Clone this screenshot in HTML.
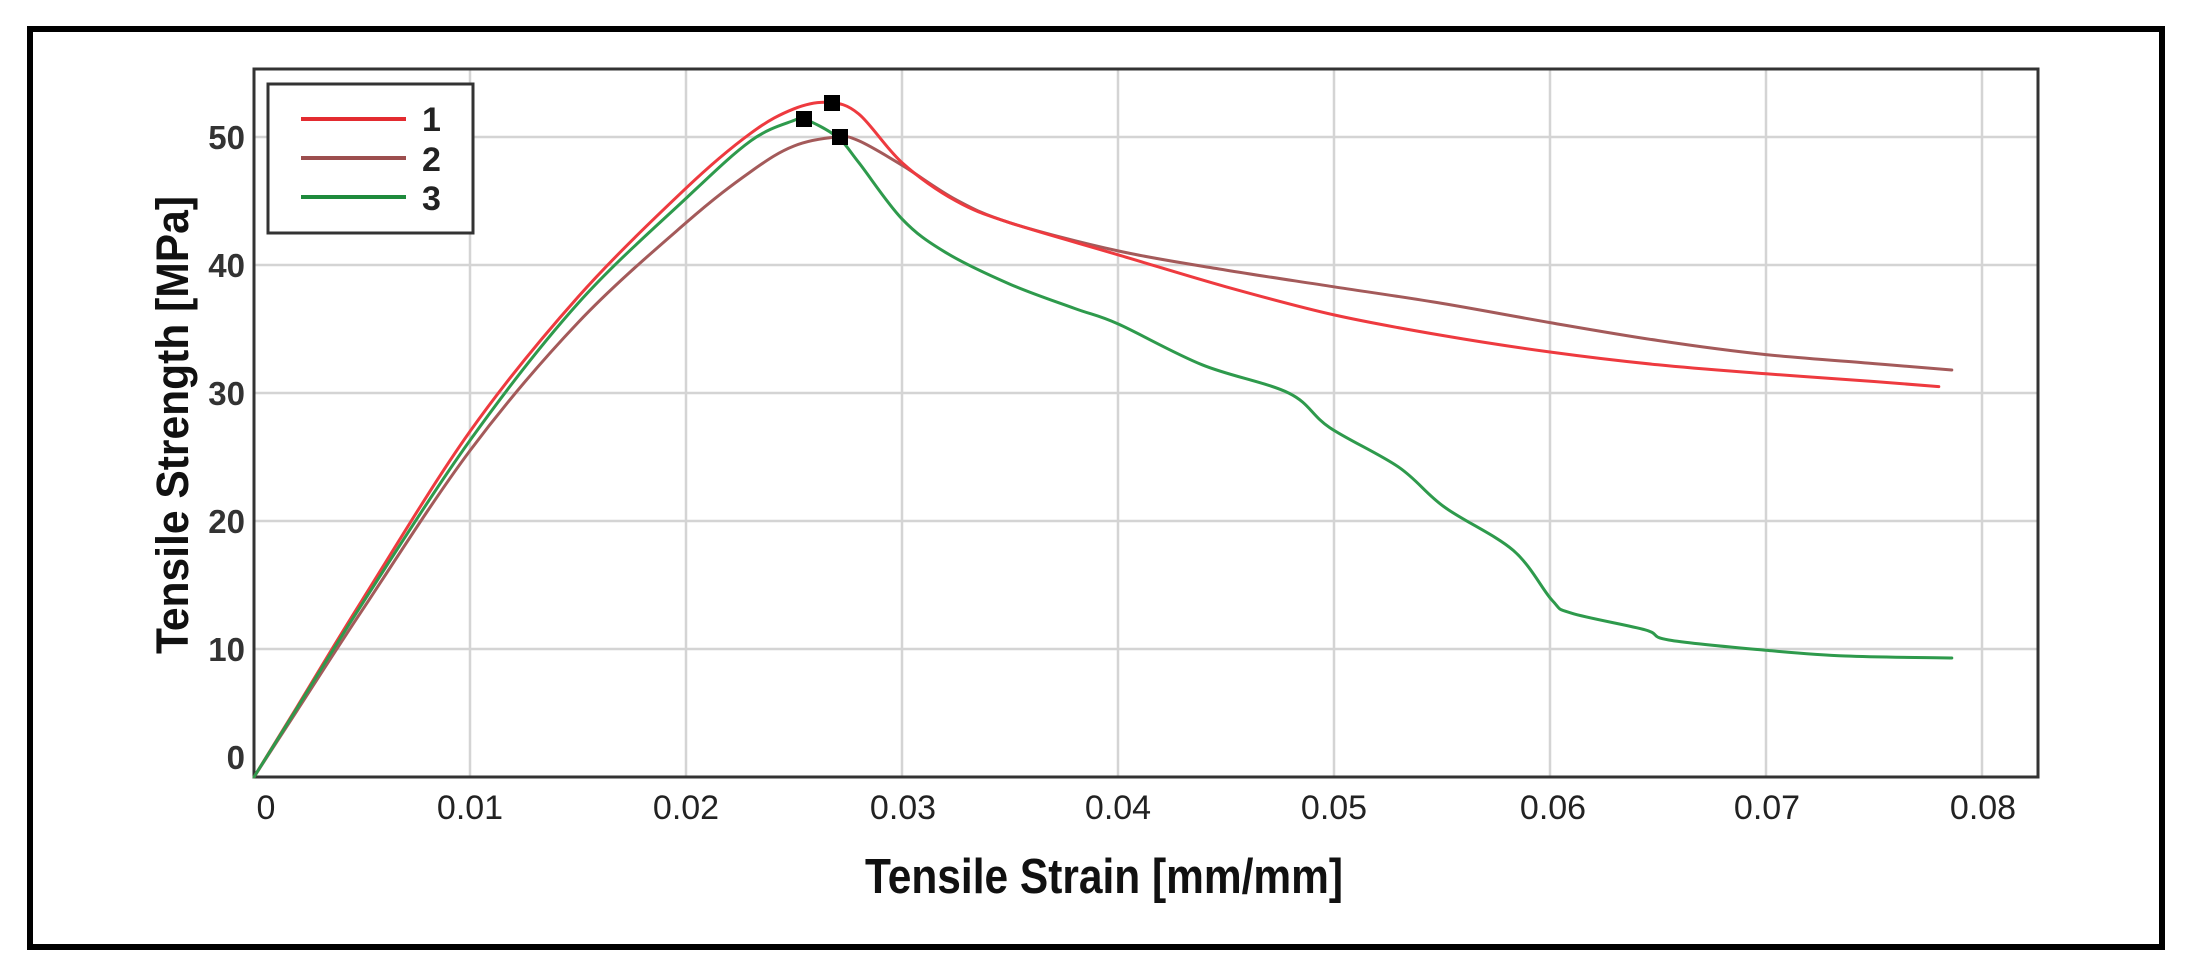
<!DOCTYPE html>
<html><head><meta charset="utf-8"><style>
html,body{margin:0;padding:0;background:#fff;}
svg{display:block;}
text{font-family:"Liberation Sans",Arial,sans-serif;}
</style></head><body>
<svg width="2199" height="977" viewBox="0 0 2199 977" xmlns="http://www.w3.org/2000/svg">
<rect x="0" y="0" width="2199" height="977" fill="#fff"/>
<rect x="30" y="29" width="2132" height="918" fill="none" stroke="#000" stroke-width="6"/>
<g stroke="#d4d4d4" stroke-width="2.5">
<line x1="470" y1="69" x2="470" y2="777"/>
<line x1="686" y1="69" x2="686" y2="777"/>
<line x1="902" y1="69" x2="902" y2="777"/>
<line x1="1118" y1="69" x2="1118" y2="777"/>
<line x1="1334" y1="69" x2="1334" y2="777"/>
<line x1="1550" y1="69" x2="1550" y2="777"/>
<line x1="1766" y1="69" x2="1766" y2="777"/>
<line x1="1982" y1="69" x2="1982" y2="777"/>
<line x1="254" y1="137" x2="2038" y2="137"/>
<line x1="254" y1="265" x2="2038" y2="265"/>
<line x1="254" y1="393" x2="2038" y2="393"/>
<line x1="254" y1="521" x2="2038" y2="521"/>
<line x1="254" y1="649" x2="2038" y2="649"/>
</g>
<rect x="254" y="69" width="1784" height="708" fill="none" stroke="#333" stroke-width="3"/>
<g font-size="33" fill="#333" font-weight="bold" text-anchor="end">
<text x="245" y="149">50</text>
<text x="245" y="277">40</text>
<text x="245" y="405">30</text>
<text x="245" y="533">20</text>
<text x="245" y="661">10</text>
<text x="245" y="769">0</text>
</g>
<g font-size="34" fill="#222" text-anchor="middle">
<text x="266" y="819">0</text>
<text x="470" y="819">0.01</text>
<text x="686" y="819">0.02</text>
<text x="903" y="819">0.03</text>
<text x="1118" y="819">0.04</text>
<text x="1334" y="819">0.05</text>
<text x="1553" y="819">0.06</text>
<text x="1767" y="819">0.07</text>
<text x="1983" y="819">0.08</text>
</g>
<text x="865" y="893" font-size="49" font-weight="bold" fill="#111" textLength="478" lengthAdjust="spacingAndGlyphs">Tensile Strain [mm/mm]</text>
<text transform="translate(188,654) rotate(-90)" font-size="45" font-weight="bold" fill="#111" textLength="458" lengthAdjust="spacingAndGlyphs">Tensile Strength [MPa]</text>
<g fill="none" stroke-width="3" stroke-linejoin="round" stroke-linecap="round">
<path id="c2" stroke="#a45a5a" d=""/>
<path id="c1" stroke="#ee3a3f" d=""/>
<path id="c3" stroke="#2e9a4c" d=""/>
</g>
<g fill="#000">
<rect x="824" y="95" width="16" height="16"/>
<rect x="796" y="111" width="16" height="16"/>
<rect x="832" y="129" width="16" height="16"/>
</g>
<rect x="268" y="84" width="205" height="149" fill="#fff" stroke="#333" stroke-width="3"/>
<line x1="301" y1="119" x2="406" y2="119" stroke="#e32b30" stroke-width="4"/>
<line x1="301" y1="158" x2="406" y2="158" stroke="#9c4e4e" stroke-width="4"/>
<line x1="301" y1="197" x2="406" y2="197" stroke="#1e8a3c" stroke-width="4"/>
<g font-size="34" font-weight="bold" fill="#222">
<text x="422" y="131">1</text>
<text x="422" y="171">2</text>
<text x="422" y="210">3</text>
</g>
</svg>
<script>
var D={
c2:[[0,0],[0.002,5.2],[0.005,13],[0.01,25.5],[0.015,35.5],[0.02,43.3],[0.023,47.3],[0.025,49.3],[0.027,50],[0.028,49.7],[0.03,47.8],[0.0325,45.1],[0.035,43.3],[0.04,41.1],[0.045,39.6],[0.05,38.3],[0.055,37],[0.06,35.5],[0.065,34.1],[0.07,33],[0.075,32.3],[0.0786,31.8]],
c1:[[0,0],[0.002,5.5],[0.005,13.8],[0.01,27],[0.015,37.5],[0.02,46],[0.023,50.3],[0.025,52.2],[0.0266,52.7],[0.028,51.8],[0.03,48],[0.0325,45],[0.035,43.3],[0.04,40.8],[0.045,38.3],[0.05,36.1],[0.055,34.5],[0.06,33.2],[0.065,32.2],[0.07,31.5],[0.075,30.9],[0.078,30.5]],
c3:[[0,0],[0.002,5.4],[0.005,13.5],[0.01,26.3],[0.015,37],[0.02,45.2],[0.023,49.7],[0.025,51.3],[0.0255,51.4],[0.027,50],[0.028,48],[0.03,43.6],[0.032,41],[0.035,38.5],[0.038,36.6],[0.04,35.4],[0.0439,32.2],[0.0479,30],[0.0498,27.3],[0.053,24.2],[0.0551,21.1],[0.0583,17.7],[0.0601,13.8],[0.061,12.8],[0.0644,11.5],[0.0655,10.7],[0.07,9.9],[0.0737,9.45],[0.0786,9.3]]
};
for(var k in D){var p=D[k].map(function(a){return[254+21600*a[0],777-12.8*a[1]]});
var d="M"+p[0][0].toFixed(1)+","+p[0][1].toFixed(1);
for(var i=0;i<p.length-1;i++){var p0=p[i-1]||p[i],p1=p[i],p2=p[i+1],p3=p[i+2]||p2;
var c1x=p1[0]+(p2[0]-p0[0])/6,c1y=p1[1]+(p2[1]-p0[1])/6,c2x=p2[0]-(p3[0]-p1[0])/6,c2y=p2[1]-(p3[1]-p1[1])/6;
d+=" C"+c1x.toFixed(1)+","+c1y.toFixed(1)+" "+c2x.toFixed(1)+","+c2y.toFixed(1)+" "+p2[0].toFixed(1)+","+p2[1].toFixed(1);}
document.getElementById(k).setAttribute("d",d);}
</script>
</body></html>
